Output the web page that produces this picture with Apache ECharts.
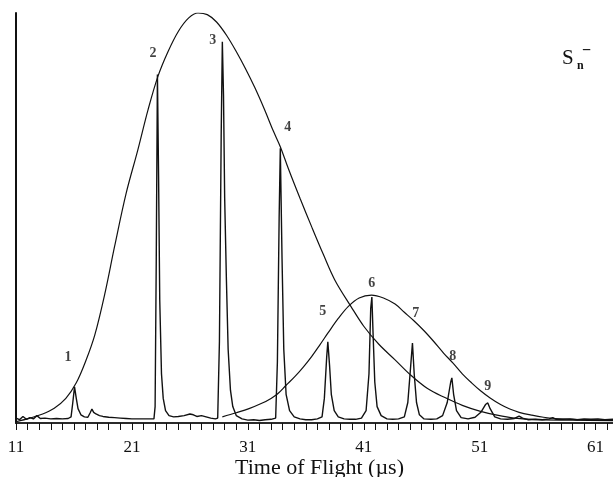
<!DOCTYPE html>
<html>
<head>
<meta charset="utf-8">
<script src="https://cdn.jsdelivr.net/npm/echarts@6/dist/echarts.min.js"></script>
<style>
  html, body { margin: 0; padding: 0; background: #fff; }
  #chart { width: 613px; height: 477px; }
</style>
</head>
<body>
<div id="chart"></div>
<script>
// Time-of-flight spectrum of S_n^- cluster anions: [time (µs), intensity]
const spectrum = [
  [11.0,1.2],[11.3,0.8],[11.6,1.6],[11.9,0.9],[12.2,1.3],[12.5,1.0],[12.8,1.8],[13.1,1.1],
  [13.5,1.2],[14.0,1.0],[14.5,1.1],[15.0,1.0],[15.5,1.1],[15.75,1.5],[15.9,5],[16.05,8.8],
  [16.2,6],[16.35,3.5],[16.6,2.0],[16.9,1.5],[17.2,1.4],[17.4,2.5],[17.55,3.4],[17.7,2.6],
  [17.9,2.2],[18.2,1.8],[18.5,1.6],[19.0,1.4],[19.5,1.3],[20.0,1.2],[20.5,1.1],[21.0,1.0],
  [21.5,1.0],[22.0,1.0],[22.5,1.0],[22.9,1.0],[23.0,4],[23.1,40],[23.2,85],[23.3,60],
  [23.4,30],[23.55,12],[23.7,6],[23.9,3],[24.2,1.8],[24.6,1.5],[25.0,1.6],[25.5,1.8],
  [26.0,2.2],[26.3,2.0],[26.6,1.6],[27.0,1.8],[27.4,1.5],[27.8,1.2],[28.2,1.0],[28.4,1.2],
  [28.55,20],[28.7,70],[28.8,93],[28.9,80],[29.0,55],[29.15,35],[29.3,18],[29.5,8],
  [29.7,4],[30.0,1.8],[30.5,1.0],[31.0,0.7],[31.5,0.8],[32.0,0.6],[32.5,0.8],[33.0,0.9],
  [33.4,1.2],[33.55,15],[33.7,50],[33.8,67],[33.95,40],[34.1,18],[34.3,7],[34.6,3],
  [35.0,1.5],[35.5,1.0],[36.0,0.8],[36.5,0.8],[37.0,1.0],[37.4,1.5],[37.6,6],[37.8,16],
  [37.9,19.8],[38.05,14],[38.2,7],[38.45,3],[38.8,1.5],[39.3,1.0],[39.8,0.9],[40.3,0.9],
  [40.8,1.2],[41.2,3],[41.45,12],[41.6,28],[41.7,30.7],[41.8,22],[41.95,10],[42.15,4],
  [42.5,1.8],[43.0,1.0],[43.5,0.9],[44.0,1.0],[44.5,1.5],[44.8,5],[45.05,14],[45.2,19.5],
  [45.35,12],[45.55,5],[45.8,2],[46.2,1.0],[46.8,0.9],[47.3,1.0],[47.8,1.8],[48.2,5],
  [48.5,10],[48.6,11.0],[48.75,7],[49.0,3],[49.4,1.3],[50.0,1.0],[50.6,1.4],[51.1,2.6],
  [51.5,4.5],[51.7,4.9],[51.9,3.5],[52.3,1.5],[52.8,1.0],[53.4,0.9],[54.0,1.1],[54.4,1.7],
  [54.7,1.2],[55.2,0.8],[55.8,0.9],[56.4,0.8],[57.0,1.0],[57.3,1.3],[57.6,0.9],[58.2,0.9],
  [58.8,1.0],[59.4,0.8],[60.0,1.0],[60.6,0.9],[61.2,1.0],[61.8,0.8],[62.5,0.9]
];

// Envelope of the large clusters (peaks 1–4)
const envelopeMain = [
  [11.0,0.3],[12.2,1.2],[13.3,2.2],[14.3,3.6],[15.3,6.0],[16.2,9.8],[17.0,15.0],
  [17.8,21.5],[18.7,32.0],[19.5,43.0],[20.5,56.0],[21.5,66.5],[22.4,76.5],[23.25,84.6],
  [24.1,90.5],[25.0,95.5],[25.9,98.8],[26.7,100],[27.5,99.6],[28.3,97.8],[29.2,94.4],
  [30.0,90.6],[30.8,86.4],[31.6,81.8],[32.4,76.7],[33.2,71.2],[33.8,67.4],[34.5,62.0],
  [35.5,54.8],[36.5,47.9],[37.5,41.2],[38.5,34.9],[39.9,28.4],[41.0,23.6],[42.3,19.2],
  [43.7,15.4],[45.0,11.8],[46.5,8.4],[48.0,6.2],[49.5,4.3],[51.0,2.9],[52.5,1.9],
  [54.0,1.2],[56.0,0.8],[59.0,0.7],[62.5,0.6]
];

// Envelope of the smaller clusters (peaks 5–9)
const envelopeSmall = [
  [28.8,1.5],[30.0,2.5],[31.1,3.5],[32.2,4.8],[33.0,6.0],[33.6,7.2],[34.3,9.2],
  [35.05,11.3],[35.8,13.7],[36.5,16.2],[37.2,19.0],[37.9,21.9],[38.8,25.5],[39.65,28.4],
  [40.6,30.5],[41.66,31.2],[42.7,30.5],[43.7,29.0],[44.5,27.0],[45.3,25.0],[46.2,22.5],
  [47.0,20.0],[47.9,17.0],[48.7,14.6],[49.5,12.0],[50.3,9.8],[51.1,7.8],[51.9,6.1],
  [52.8,4.5],[53.6,3.4],[54.4,2.6],[55.5,1.9],[56.5,1.4],[57.5,1.1],[59.0,0.9],
  [60.5,0.8],[62.5,0.7]
];

// Peak numbers and where they sit
const peakNames = ['1','2','3','4','5','6','7','8','9'];
const peakLabelX = [15.48, 22.81, 27.98, 34.45, 37.47, 41.69, 45.48, 48.67, 51.69];
const peakLabelY = [16.1, 90.2, 93.4, 72.0, 27.3, 34.1, 26.8, 16.3, 9.0];

// Axis tick labels
const xTickLabels = [11, 21, 31, 41, 51, 61];

const serif = '"Liberation Serif", "DejaVu Serif", serif';
const chart = echarts.init(document.getElementById('chart'), null, { renderer: 'canvas' });

chart.setOption({
  animation: false,
  backgroundColor: '#ffffff',
  grid: { left: 16, right: 0, top: 13, bottom: 54, containLabel: false, outerBoundsMode: 'none' },
  xAxis: [
    {
      type: 'value',
      min: 11,
      max: 62.5,
      interval: 1,
      name: 'Time of Flight (µs)',
      nameLocation: 'middle',
      nameGap: 34,
      nameMoveOverlap: false,
      nameTextStyle: { fontFamily: serif, fontSize: 22, color: '#111', padding: [0, 0, 0, 10] },
      axisLine: { show: true, onZero: false, lineStyle: { color: '#111', width: 1.5 } },
      axisTick: { show: true, length: 7, lineStyle: { color: '#111', width: 1 } },
      axisLabel: {
        margin: 16,
        fontFamily: serif,
        fontSize: 17,
        color: '#111',
        showMaxLabel: false,
        formatter: function (v) { return xTickLabels.indexOf(v) >= 0 ? String(v) : ''; }
      },
      splitLine: { show: false }
    },
    {
      type: 'value',
      position: 'top',
      min: 11,
      max: 62.5,
      axisLine: { show: true, lineStyle: { color: '#222', width: 1.6 } },
      axisTick: { show: false },
      axisLabel: { show: false },
      splitLine: { show: false }
    }
  ],
  yAxis: {
    type: 'value',
    min: 0,
    max: 100,
    axisLine: { show: true, lineStyle: { color: '#111', width: 2 } },
    axisTick: { show: false },
    axisLabel: { show: false },
    splitLine: { show: false }
  },
  graphic: [
    { type: 'text', left: 562, top: 48, style: { text: 'S', font: '21px ' + serif, fill: '#111' } },
    { type: 'text', left: 577, top: 60, style: { text: 'n', font: 'bold 12px ' + serif, fill: '#111' } },
    { type: 'text', left: 582, top: 43, style: { text: '−', font: 'bold 16px ' + serif, fill: '#111' } }
  ],
  series: [
    {
      name: 'spectrum',
      type: 'line',
      data: spectrum,
      showSymbol: false,
      symbol: 'none',
      smooth: false,
      lineStyle: { color: '#111', width: 1.4 },
      z: 3
    },
    {
      name: 'envelope main',
      type: 'line',
      data: envelopeMain,
      symbol: 'none',
      smooth: 0.35,
      lineStyle: { color: '#111', width: 1.2 },
      z: 2
    },
    {
      name: 'envelope small',
      type: 'line',
      data: envelopeSmall,
      symbol: 'none',
      smooth: 0.35,
      lineStyle: { color: '#111', width: 1.2 },
      z: 2
    },
    {
      name: 'peak labels',
      type: 'scatter',
      symbolSize: 0,
      data: peakNames.map(function (n, i) { return { name: n, value: [peakLabelX[i], peakLabelY[i]] }; }),
      label: {
        show: true,
        position: 'inside',
        formatter: '{b}',
        fontFamily: serif,
        fontWeight: 'bold',
        fontSize: 14,
        color: '#111'
      },
      z: 4
    }
  ]
});
</script>
</body>
</html>
